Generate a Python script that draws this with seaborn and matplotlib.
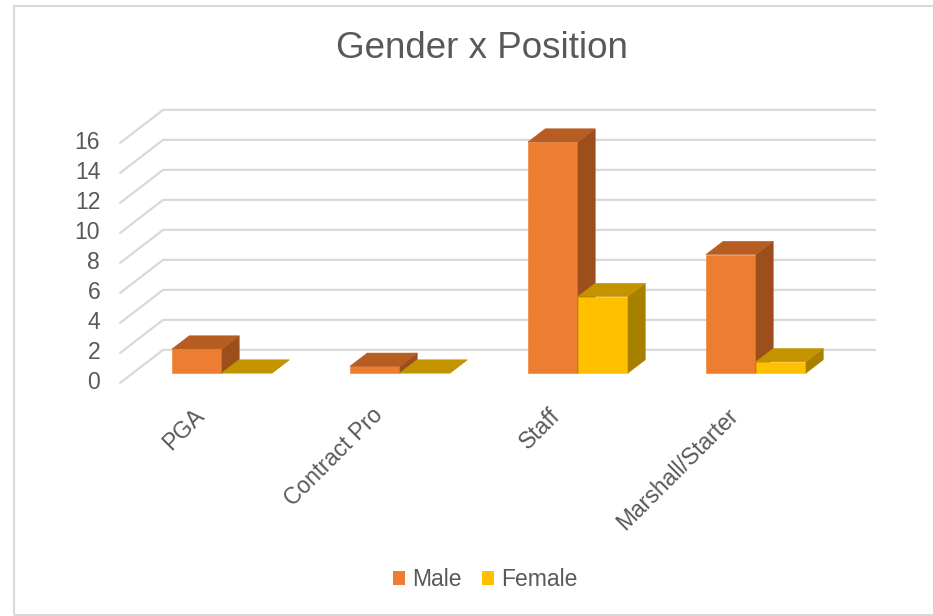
import matplotlib
matplotlib.use("Agg")
import matplotlib.pyplot as plt
from matplotlib.patches import Polygon, Rectangle
import seaborn as sns
import pandas as pd

# Datos
puestos = ["PGA", "Contract Pro", "Staff", "Marshall/Starter"]
generos = ["Male", "Female"]
hombres = [1.6, 0.45, 15.4, 7.9]
mujeres = [0, 0, 5.1, 0.75]
ticks_y = [0, 2, 4, 6, 8, 10, 12, 14, 16]

colores = {"Male": "#ED7D31", "Female": "#FFC000"}
techo = {"Male": "#B75D22", "Female": "#C49400"}
lado = {"Male": "#9C4E1D", "Female": "#A88000"}
gris_texto = "#595959"
gris_linea = "#D9D9D9"

df = pd.DataFrame({
    "Position": puestos * 2,
    "Gender": ["Male"] * len(puestos) + ["Female"] * len(puestos),
    "Count": hombres + mujeres,
})

sns.set_theme(style="white")
plt.rcParams["font.family"] = ["Liberation Sans", "DejaVu Sans"]

W, H = 933, 616
fig = plt.figure(figsize=(W / 100, H / 100), dpi=100)
ax = fig.add_axes([133 / W, 1 - 388 / H, 712 / W, 270 / H])

sns.barplot(data=df, x="Position", y="Count", hue="Gender", order=puestos,
            hue_order=generos, palette=colores, saturation=1, width=0.562,
            errorbar=None, linewidth=0, ax=ax)
ax.set_xlim(-0.5, len(puestos) - 0.5)
ax.set_ylim(-1, 17)

# profundidad del efecto 3D (en unidades de los ejes)
ddx = 43 / 178
ddy = 33 / 15
bdx, bdy = 0.4 * ddx, 0.4 * ddy

# paredes: lineas de la cuadricula en el piso y la pared del fondo
for v in ticks_y:
    xs = [-0.5 - 0.3 * ddx, -0.5 + 0.7 * ddx, len(puestos) - 0.5 + 0.7 * ddx]
    ys = [v - 0.3 * ddy, v + 0.7 * ddy, v + 0.7 * ddy]
    ax.plot(xs, ys, color=gris_linea, lw=1.6, zorder=1, clip_on=False)
    ax.text(-0.5 - 0.3 * ddx - 0.112, v - 0.3 * ddy, str(v), ha="right",
            va="center", fontsize=16.5, color=gris_texto)

# caras laterales y superiores de cada barra
barras = [p for p in ax.patches if isinstance(p, Rectangle)]
for p in barras:
    x0, w, h = p.get_x(), p.get_width(), p.get_height()
    x1 = x0 + w
    cat = int(round(x0 + w))
    g = "Male" if x0 + w / 2 < cat else "Female"
    if g == "Male":
        cat = int(round(x1))
    else:
        cat = int(round(x0))
    z = 10 + 2 * cat + generos.index(g)
    p.set_zorder(z)
    p.set_edgecolor(colores[g])
    p.set_linewidth(0.4)
    lat = Polygon([(x1, 0), (x1 + bdx, bdy), (x1 + bdx, h + bdy), (x1, h)],
                  closed=True, fc=lado[g], ec=lado[g], lw=0.4, zorder=z, clip_on=False)
    sup = Polygon([(x0, h), (x1, h), (x1 + bdx, h + bdy), (x0 + bdx, h + bdy)],
                  closed=True, fc=techo[g], ec=techo[g], lw=0.4, zorder=z, clip_on=False)
    ax.add_patch(lat)
    ax.add_patch(sup)
    p.set_clip_on(False)

# etiquetas de categorias inclinadas
for i, nombre in enumerate(puestos):
    ax.text(i - 0.3 * ddx, -2.05, nombre, rotation=45, ha="right", va="top",
            fontsize=16.5, color=gris_texto)

ax.set_axis_off()

sns.move_legend(ax, "center", bbox_to_anchor=(485 / W, 1 - 580 / H),
                bbox_transform=fig.transFigure, ncol=2, frameon=False, title=None,
                fontsize=16.5, labelcolor=gris_texto, handlelength=0.55,
                handleheight=0.55, handletextpad=0.3, columnspacing=0.87)

fig.text(482 / W, 1 - 48 / H, "Gender x Position", ha="center", va="center",
         fontsize=26.5, color=gris_texto)

# marco del grafico
fig.patches.append(Rectangle((14 / W, 1 - 615 / H), (950 - 14) / W, (615 - 6) / H,
                             transform=fig.transFigure, fill=False,
                             ec=gris_linea, lw=1.5))

fig.savefig("out.png", dpi=100)
